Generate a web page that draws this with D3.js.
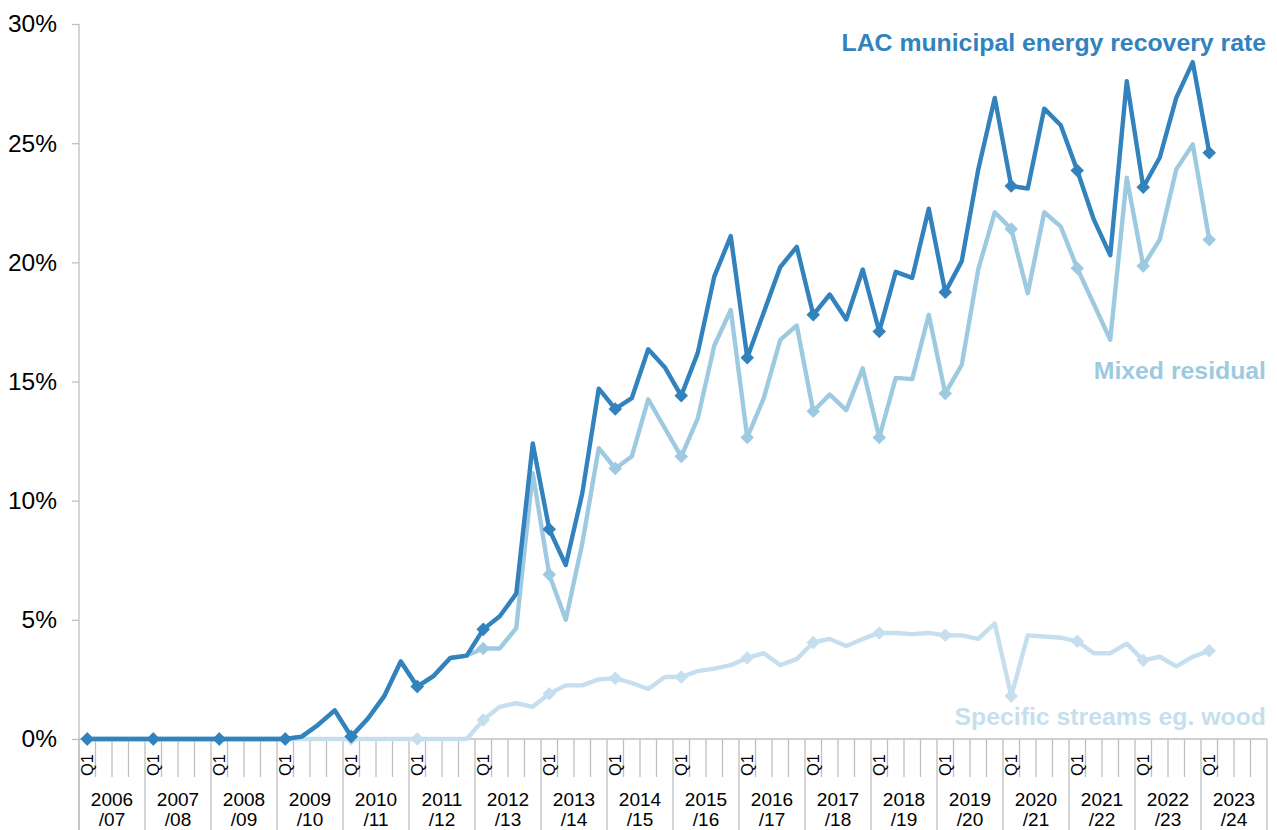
<!DOCTYPE html>
<html>
<head>
<meta charset="utf-8">
<script src="https://cdn.jsdelivr.net/npm/d3@7"></script>
<style>
  body { margin: 0; background: #fff; }
  svg { display: block; font-family: "Liberation Sans", Arial, sans-serif; }
</style>
</head>
<body>
<div id="chart"></div>
<script>
// financial years, each split into 4 quarters on the axis
var years = ["2006/07", "2007/08", "2008/09", "2009/10", "2010/11", "2011/12", "2012/13", "2013/14", "2014/15",
             "2015/16", "2016/17", "2017/18", "2018/19", "2019/20", "2020/21", "2021/22", "2022/23", "2023/24"];
var quarterLabels = ["Q1", "", "", ""];

// values in %, one per quarter from 2006/07 Q1 to 2023/24 Q1
var totalRate = [0, 0, 0, 0, 0, 0, 0, 0, 0, 0, 0, 0,
    0, 0.1, 0.6, 1.2, 0.1, 0.85, 1.8, 3.25, 2.2, 2.65, 3.4, 3.5,
    4.6, 5.15, 6.1, 12.4, 8.8, 7.3, 10.3, 14.7, 13.85, 14.3, 16.35, 15.6,
    14.4, 16.2, 19.4, 21.1, 16.0, 17.9, 19.8, 20.65, 17.8, 18.65, 17.6, 19.7,
    17.1, 19.6, 19.35, 22.25, 18.75, 20.05, 23.9, 26.9, 23.2, 23.1, 26.45, 25.75,
    23.85, 21.8, 20.3, 27.6, 23.15, 24.4, 26.9, 28.4, 24.6];
var mixedResidual = [0, 0, 0, 0, 0, 0, 0, 0, 0, 0, 0, 0,
    0, 0.1, 0.6, 1.2, 0.1, 0.85, 1.8, 3.25, 2.2, 2.65, 3.4, 3.5,
    3.8, 3.8, 4.65, 11.15, 6.9, 5.0, 8.2, 12.2, 11.35, 11.85, 14.25, 13.05,
    11.85, 13.45, 16.5, 18.0, 12.65, 14.3, 16.75, 17.35, 13.75, 14.45, 13.8, 15.55,
    12.65, 15.15, 15.1, 17.8, 14.5, 15.7, 19.7, 22.1, 21.4, 18.7, 22.1, 21.5,
    19.75, 18.25, 16.75, 23.55, 19.85, 20.95, 23.9, 24.95, 20.95];
var specificStreams = [0, 0, 0, 0, 0, 0, 0, 0, 0, 0, 0, 0,
    0, 0, 0, 0, 0, 0, 0, 0, 0, 0, 0, 0,
    0.8, 1.35, 1.5, 1.35, 1.9, 2.25, 2.25, 2.5, 2.55, 2.35, 2.1, 2.6,
    2.6, 2.85, 2.95, 3.1, 3.4, 3.6, 3.1, 3.35, 4.05, 4.2, 3.9, 4.2,
    4.45, 4.45, 4.4, 4.45, 4.35, 4.35, 4.2, 4.85, 1.8, 4.35, 4.3, 4.25,
    4.1, 3.6, 3.6, 4.0, 3.3, 3.45, 3.05, 3.45, 3.7];

var yTicks = [0, 5, 10, 15, 20, 25, 30];

var width = 1277, height = 830;
var plotLeft = 79, plotRight = 1267, plotTop = 24, plotBase = 739;

var svg = d3.select("#chart").append("svg")
    .attr("width", width)
    .attr("height", height);

svg.append("rect").attr("width", width).attr("height", height).attr("fill", "#fff");

var quarters = [];
years.forEach(function (yr) {
    quarterLabels.forEach(function (q, j) {
        quarters.push({ year: yr, q: q, first: j == 0 });
    });
});

var x = d3.scaleBand()
    .domain(d3.range(quarters.length))
    .range([plotLeft, plotRight])
    .padding(0);
var bw = x.bandwidth();
function cx(i) { return x(i) + bw / 2; }

var y = d3.scaleLinear().domain([0, 30]).range([plotBase, plotTop]);

var axisColor = "#bfbfbf";

// y axis
var yAxis = svg.append("g")
    .attr("transform", "translate(" + plotLeft + ",0)")
    .call(d3.axisLeft(y).tickValues(yTicks).tickSize(7).tickPadding(15)
        .tickFormat(function (d) { return d + "%"; }));
yAxis.select(".domain").remove();
yAxis.selectAll(".tick line").attr("stroke", axisColor).attr("stroke-width", 1.3);
yAxis.selectAll(".tick text")
    .attr("fill", "#000")
    .style("font-size", "24.5px")
    .style("font-family", "'Liberation Sans', Arial, sans-serif");

svg.append("line")
    .attr("x1", plotLeft).attr("x2", plotLeft)
    .attr("y1", plotTop).attr("y2", height)
    .attr("stroke", axisColor).attr("stroke-width", 1.3);

// category axis: quarter ticks, year dividers
svg.append("line")
    .attr("x1", plotLeft).attr("x2", plotRight)
    .attr("y1", plotBase).attr("y2", plotBase)
    .attr("stroke", axisColor).attr("stroke-width", 1.3);

var bounds = d3.range(quarters.length + 1);
svg.append("g").selectAll("line")
    .data(bounds)
    .enter().append("line")
    .attr("x1", function (k) { return k < quarters.length ? x(k) : plotRight; })
    .attr("x2", function (k) { return k < quarters.length ? x(k) : plotRight; })
    .attr("y1", plotBase)
    .attr("y2", function (k) { return k % 4 == 0 ? height : 777; })
    .attr("stroke", axisColor).attr("stroke-width", 1.3);

svg.append("g").selectAll("text")
    .data(quarters.filter(function (d) { return d.first; }))
    .enter().append("text")
    .attr("transform", function (d, i) {
        return "translate(" + (cx(i * 4) + 6) + ",776) rotate(-90)";
    })
    .attr("font-size", "16.5px")
    .attr("fill", "#000")
    .text(function (d) { return d.q; });

var yearLab = svg.append("g").selectAll("text")
    .data(years)
    .enter().append("text")
    .attr("text-anchor", "middle")
    .attr("font-size", "19px")
    .attr("fill", "#000");
yearLab.append("tspan")
    .attr("x", function (d, i) { return x(i * 4) + bw * 2; })
    .attr("y", 806)
    .text(function (d) { return d.split("/")[0]; });
yearLab.append("tspan")
    .attr("x", function (d, i) { return x(i * 4) + bw * 2; })
    .attr("y", 826)
    .text(function (d) { return "/" + d.split("/")[1]; });

// series, lightest first so the total sits on top
var series = [
    { name: "Specific streams eg. wood", values: specificStreams, color: "#c6dfee", labelY: 725 },
    { name: "Mixed residual", values: mixedResidual, color: "#9ecae1", labelY: 379 },
    { name: "LAC municipal energy recovery rate", values: totalRate, color: "#3182bd", labelY: 51 }
];

var line = d3.line()
    .x(function (d, i) { return cx(i); })
    .y(function (d) { return y(d); });

var diamond = d3.symbol().type(d3.symbolSquare).size(92);

series.forEach(function (s) {
    var g = svg.append("g");
    g.append("path")
        .attr("d", line(s.values))
        .attr("fill", "none")
        .attr("stroke", s.color)
        .attr("stroke-width", 4.4)
        .attr("stroke-linejoin", "round");

    g.selectAll(".mark")
        .data(s.values.map(function (v, i) { return { v: v, i: i }; })
            .filter(function (d) { return d.i % 4 == 0; }))
        .enter().append("path")
        .attr("class", "mark")
        .attr("d", diamond)
        .attr("fill", s.color)
        .attr("transform", function (d) {
            return "translate(" + cx(d.i) + "," + y(d.v) + ") rotate(45)";
        });

    svg.append("text")
        .attr("x", plotRight - 1)
        .attr("y", s.labelY)
        .attr("text-anchor", "end")
        .attr("font-size", "24.8px")
        .attr("font-weight", "bold")
        .attr("fill", s.color)
        .text(s.name);
});
</script>
</body>
</html>
